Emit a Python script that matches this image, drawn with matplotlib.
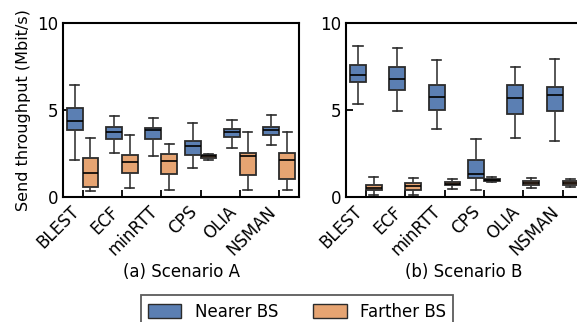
import matplotlib
matplotlib.use('Agg')
import matplotlib.pyplot as plt
from matplotlib.patches import Patch

schedulers = ['BLEST', 'ECF', 'minRTT', 'CPS', 'OLIA', 'NSMAN']

# box stats: whisker low, q1, median, q3, whisker high
# scenario A
a_near_lo = [2.13, 2.51, 2.36, 1.69, 2.80, 3.01]
a_near_q1 = [3.85, 3.33, 3.31, 2.42, 3.47, 3.58]
a_near_med = [4.38, 3.75, 3.85, 2.93, 3.75, 3.83]
a_near_q3 = [5.09, 4.00, 3.98, 3.24, 3.91, 4.04]
a_near_hi = [6.46, 4.67, 4.54, 4.25, 4.40, 4.71]

a_far_lo = [0.35, 0.53, 0.39, 2.15, 0.39, 0.39]
a_far_q1 = [0.60, 1.40, 1.33, 2.26, 1.27, 1.02]
a_far_med = [1.37, 2.00, 2.09, 2.34, 2.34, 2.13]
a_far_q3 = [2.22, 2.40, 2.47, 2.40, 2.53, 2.53]
a_far_hi = [3.39, 3.54, 3.07, 2.47, 3.71, 3.74]

# scenario B
b_near_lo = [5.34, 4.96, 3.91, 0.43, 3.41, 3.24]
b_near_q1 = [6.58, 6.12, 4.97, 1.10, 4.79, 4.94]
b_near_med = [7.02, 6.77, 5.74, 1.33, 5.68, 5.86]
b_near_q3 = [7.59, 7.46, 6.43, 2.15, 6.43, 6.32]
b_near_hi = [8.70, 8.55, 7.86, 3.33, 7.44, 7.90]

b_far_lo = [0.14, 0.10, 0.49, 0.85, 0.51, 0.58]
b_far_q1 = [0.41, 0.43, 0.68, 0.93, 0.70, 0.70]
b_far_med = [0.54, 0.62, 0.77, 1.00, 0.83, 0.81]
b_far_q3 = [0.70, 0.81, 0.87, 1.06, 0.95, 0.91]
b_far_hi = [1.16, 1.10, 1.02, 1.13, 1.10, 1.04]

BLUE = '#5b7fb3'
ORANGE = '#e6a472'

plt.rcParams['font.family'] = 'DejaVu Sans'
plt.rcParams['font.size'] = 12


def make_stats(lo, q1, med, q3, hi):
    stats = []
    for i in range(len(lo)):
        stats.append({'whislo': lo[i], 'q1': q1[i], 'med': med[i],
                      'q3': q3[i], 'whishi': hi[i], 'fliers': []})
    return stats


def draw_panel(ax, near, far):
    n = len(schedulers)
    for stats, off, color in [(near, -0.2, BLUE), (far, 0.2, ORANGE)]:
        ax.bxp(make_stats(*stats), positions=[i + off for i in range(n)],
               widths=0.4, capwidths=0.23, patch_artist=True, showfliers=False,
               boxprops=dict(facecolor=color, edgecolor='#2b2b2b', linewidth=1.3),
               medianprops=dict(color='black', linewidth=1.2),
               whiskerprops=dict(color='#3a3a3a', linewidth=1.2),
               capprops=dict(color='#2b2b2b', linewidth=1.2))
    ax.set_xlim(-0.5, n - 0.5)
    ax.set_ylim(0, 10)
    ax.set_yticks([0, 5, 10])
    ax.set_xticks(range(n))
    ax.set_xticklabels(schedulers, rotation=45, ha='right')
    ax.tick_params(direction='in', length=5, width=1.3)
    ax.tick_params(axis='x', pad=4)
    for s in ax.spines.values():
        s.set_linewidth(1.5)


fig = plt.figure(figsize=(5.77, 3.22), dpi=100)
ax1 = fig.add_axes([0.109, 0.388, 0.409, 0.541])
ax2 = fig.add_axes([0.600, 0.388, 0.409, 0.541])

draw_panel(ax1, (a_near_lo, a_near_q1, a_near_med, a_near_q3, a_near_hi),
           (a_far_lo, a_far_q1, a_far_med, a_far_q3, a_far_hi))
draw_panel(ax2, (b_near_lo, b_near_q1, b_near_med, b_near_q3, b_near_hi),
           (b_far_lo, b_far_q1, b_far_med, b_far_q3, b_far_hi))

ax1.set_ylabel('Send throughput (Mbit/s)', fontsize=11.5, labelpad=4)

fig.text(0.314, 1 - 272 / 322, '(a) Scenario A', ha='center', va='center')
fig.text(0.804, 1 - 272 / 322, '(b) Scenario B', ha='center', va='center')

handles = [Patch(facecolor=BLUE, edgecolor='#2b2b2b', label='Nearer BS'),
           Patch(facecolor=ORANGE, edgecolor='#2b2b2b', label='Farther BS')]
leg = fig.legend(handles=handles, loc='upper center', ncol=2,
                 bbox_to_anchor=(297 / 577, 1 - 287 / 322),
                 fancybox=False, edgecolor='#333333', handlelength=2.0,
                 handleheight=0.9, columnspacing=2.1, borderpad=0.45)
leg.get_frame().set_linewidth(1.3)

fig.savefig('out.png', dpi=100)
